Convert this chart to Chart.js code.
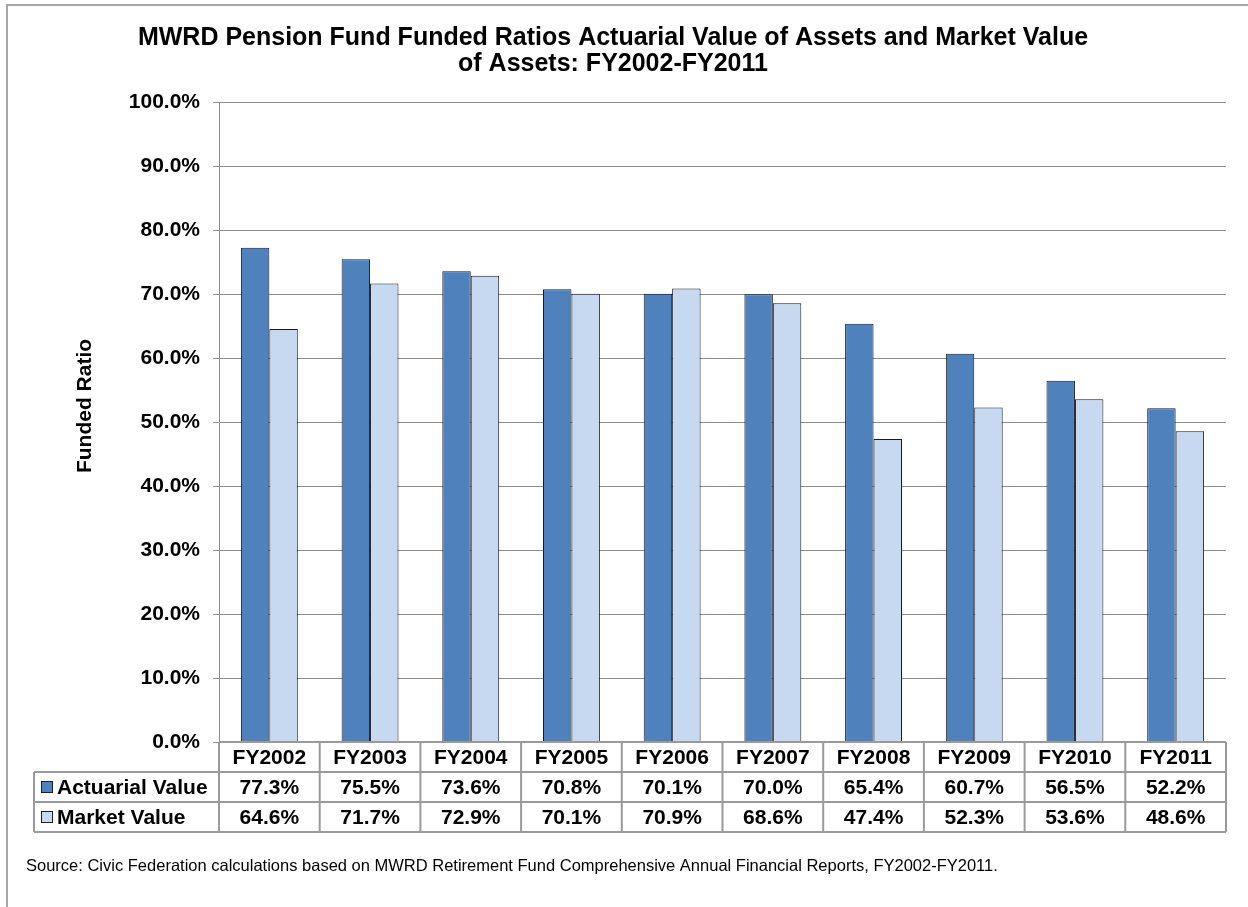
<!DOCTYPE html>
<html>
<head>
<meta charset="utf-8">
<script src="https://cdn.jsdelivr.net/npm/chart.js@4.4.1/dist/chart.umd.min.js"></script>
<style>
  body { margin: 0; background: #fff; }
  #wrap { position: relative; width: 1248px; height: 907px; }
  #frame { position: absolute; left: 6px; top: 4px; right: 0; bottom: 0; border-top: 2px solid #a6a6a6; border-left: 2px solid #a6a6a6; }
  canvas { position: absolute; left: 0; top: 0; }
</style>
</head>
<body>
<div id="wrap">
  <div id="frame"></div>
  <canvas id="graphic" width="1248" height="907"></canvas>
</div>
<script>
const categories = ['FY2002', 'FY2003', 'FY2004', 'FY2005', 'FY2006', 'FY2007', 'FY2008', 'FY2009', 'FY2010', 'FY2011'];
const actuarialValue = [77.3, 75.5, 73.6, 70.8, 70.1, 70.0, 65.4, 60.7, 56.5, 52.2];
const marketValue = [64.6, 71.7, 72.9, 70.1, 70.9, 68.6, 47.4, 52.3, 53.6, 48.6];
const seriesNames = ['Actuarial Value', 'Market Value'];
const seriesColors = ['#4f81bd', '#c6d9f1'];
const titleLines = ['MWRD Pension Fund Funded Ratios Actuarial Value of Assets and Market Value', 'of Assets: FY2002-FY2011'];
const yTitle = 'Funded Ratio';
const sourceNote = 'Source: Civic Federation calculations based on MWRD Retirement Fund Comprehensive Annual Financial Reports, FY2002-FY2011.';

const FONT = '"Liberation Sans", Arial, sans-serif';
const gridColor = '#8c8c8c';
const tableColor = '#9a9a9a';

// data table under the plot, drawn from the x scale
const dataTable = {
    id: 'dataTable',
    afterDraw(chart) {
        const c = chart.ctx;
        const area = chart.chartArea;
        const xs = chart.scales.x;
        const colW = xs.width / categories.length;
        const rowH = 30;
        const top = area.bottom;
        const legendLeft = 34;
        const rows = [actuarialValue, marketValue];

        c.save();
        c.strokeStyle = tableColor;
        c.lineWidth = 2;
        c.beginPath();
        c.moveTo(area.left, top); c.lineTo(area.right, top);
        for (let r = 1; r <= 3; r++) {
            c.moveTo(legendLeft, top + r * rowH);
            c.lineTo(area.right, top + r * rowH);
        }
        for (let i = 0; i <= categories.length; i++) {
            const x = area.left + i * colW;
            c.moveTo(x, top); c.lineTo(x, top + 3 * rowH);
        }
        c.moveTo(legendLeft, top + rowH); c.lineTo(legendLeft, top + 3 * rowH);
        c.stroke();

        c.fillStyle = '#000';
        c.font = 'bold 21px ' + FONT;
        c.textAlign = 'center';
        c.textBaseline = 'middle';
        categories.forEach((cat, i) => {
            const x = xs.getPixelForValue(i);
            c.fillText(cat, x, top + rowH / 2 + 1);
            rows.forEach((vals, r) => {
                c.fillText(vals[i].toFixed(1) + '%', x, top + rowH * (r + 1) + rowH / 2 + 1);
            });
        });

        c.textAlign = 'left';
        seriesNames.forEach((name, r) => {
            const cy = top + rowH * (r + 1) + rowH / 2;
            c.fillStyle = seriesColors[r];
            c.fillRect(41, cy - 6, 12, 12);
            c.strokeStyle = '#1f1f1f';
            c.lineWidth = 1;
            c.strokeRect(41.5, cy - 5.5, 11, 11);
            c.fillStyle = '#000';
            c.fillText(name, 57, cy + 1);
        });

        // y axis title, sits a bit above the middle like the original
        c.save();
        c.translate(85, 406);
        c.rotate(-Math.PI / 2);
        c.textAlign = 'center';
        c.fillText(yTitle, 0, 0);
        c.restore();

        c.font = '16.5px ' + FONT;
        c.textBaseline = 'alphabetic';
        c.fillText(sourceNote, 26, 871);
        c.restore();
    }
};

new Chart(document.getElementById('graphic'), {
    type: 'bar',
    data: {
        labels: categories,
        datasets: [
            { label: seriesNames[0], data: actuarialValue, backgroundColor: seriesColors[0], borderColor: '#1a1a1a', borderWidth: 1 },
            { label: seriesNames[1], data: marketValue, backgroundColor: seriesColors[1], borderColor: '#1a1a1a', borderWidth: 1 }
        ]
    },
    options: {
        responsive: false,
        animation: false,
        devicePixelRatio: 1,
        layout: { padding: { top: 5, right: 22, bottom: 0, left: 0 } },
        datasets: { bar: { categoryPercentage: 0.565, barPercentage: 1 } },
        plugins: {
            legend: { display: false },
            tooltip: { enabled: false },
            title: {
                display: true,
                text: titleLines,
                color: '#000',
                font: { family: FONT, size: 25, weight: 'bold', lineHeight: 1.05 },
                padding: { top: 20, bottom: 25 }
            }
        },
        scales: {
            x: {
                grid: { display: false },
                border: { display: false },
                ticks: { display: false },
                afterFit(scale) { scale.height = 165; }
            },
            y: {
                min: 0,
                max: 100,
                ticks: {
                    stepSize: 10,
                    padding: 13,
                    color: '#000',
                    font: { family: FONT, size: 21, weight: 'bold' },
                    callback: v => v.toFixed(1) + '%'
                },
                grid: { color: gridColor, lineWidth: 1, tickLength: 6, tickColor: gridColor },
                border: { color: gridColor, width: 1 },
                afterFit(scale) { scale.width = 219; }
            }
        }
    },
    plugins: [dataTable]
});
</script>
</body>
</html>
